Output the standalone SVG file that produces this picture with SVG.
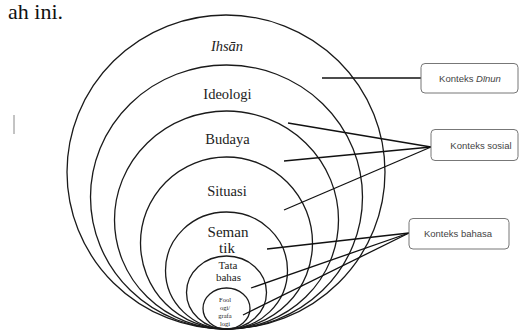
<svg xmlns="http://www.w3.org/2000/svg" width="519" height="331" viewBox="0 0 519 331">
<style>
.c{fill:none;stroke:#1a1a1a;stroke-width:1.3}
.l{stroke:#111;stroke-width:1.3;fill:none}
.b{fill:#fff;stroke:#777;stroke-width:1}
.t{font-family:"Liberation Serif",serif;fill:#222;text-anchor:middle}
.s{font-family:"Liberation Sans",Arial,sans-serif;font-size:9.5px;fill:#444;text-anchor:middle}
</style>
<rect width="519" height="331" fill="#fff"/>
<text x="63" y="19" font-family="Liberation Serif,serif" font-size="22" fill="#111" text-anchor="end">ah ini.</text>
<line x1="14" y1="115" x2="14" y2="134" stroke="#888" stroke-width="1"/>
<g id="ihsan"><ellipse class="c" cx="226" cy="172" rx="159" ry="157"/><text class="t" x="227" y="51" font-size="14.5" font-style="italic">Ihsān</text></g>
<g id="ideologi"><ellipse class="c" cx="226.5" cy="197" rx="136" ry="132"/><text class="t" x="227.5" y="99" font-size="14.5">Ideologi</text></g>
<g id="budaya"><ellipse class="c" cx="226.5" cy="220" rx="112" ry="109"/><text class="t" x="227.5" y="144" font-size="14.5">Budaya</text></g>
<g id="situasi"><ellipse class="c" cx="226.5" cy="243" rx="86" ry="86"/><text class="t" x="227" y="196" font-size="14.5">Situasi</text></g>
<g id="semantik"><ellipse class="c" cx="226.5" cy="270.5" rx="61" ry="58.5"/><text class="t" x="228" y="237" font-size="15">Seman</text><text class="t" x="227" y="253" font-size="15">tik</text></g>
<g id="tatabahasa"><ellipse class="c" cx="226.5" cy="292.5" rx="40" ry="36.5"/><text class="t" x="228" y="269" font-size="11">Tata</text><text class="t" x="228.5" y="281" font-size="11">bahas</text></g>
<g id="fonologi"><ellipse class="c" cx="226.5" cy="308.5" rx="23.5" ry="20.5"/><text class="t" x="225" y="302" font-size="6.5">Fool</text><text class="t" x="225" y="309.5" font-size="6.5">ogi/</text><text class="t" x="225" y="318" font-size="6.5">grafa</text><text class="t" x="225" y="325.5" font-size="6.5">logi</text></g>
<g id="connectors">
<line class="l" x1="322" y1="78" x2="421" y2="78"/>
<line class="l" x1="288" y1="123" x2="431" y2="147"/>
<line class="l" x1="284" y1="161" x2="431" y2="147"/>
<line class="l" x1="284" y1="210" x2="431" y2="147"/>
<line class="l" x1="267" y1="249" x2="409" y2="233"/>
<line class="l" x1="251" y1="288" x2="409" y2="233"/>
<line class="l" x1="243" y1="315" x2="409" y2="233"/>
</g>
<g id="konteks-dinun"><rect class="b" x="421" y="63.5" width="97" height="29.5" rx="4"/><text class="s" x="470" y="81.5">Konteks <tspan font-style="italic">Dīnun</tspan></text></g>
<g id="konteks-sosial"><rect class="b" x="431" y="129.5" width="87" height="31" rx="4"/><text class="s" x="481" y="148.5">Konteks sosial</text></g>
<g id="konteks-bahasa"><rect class="b" x="409" y="218.5" width="100" height="30.5" rx="4"/><text class="s" x="458" y="236.5">Konteks bahasa</text></g>
</svg>
